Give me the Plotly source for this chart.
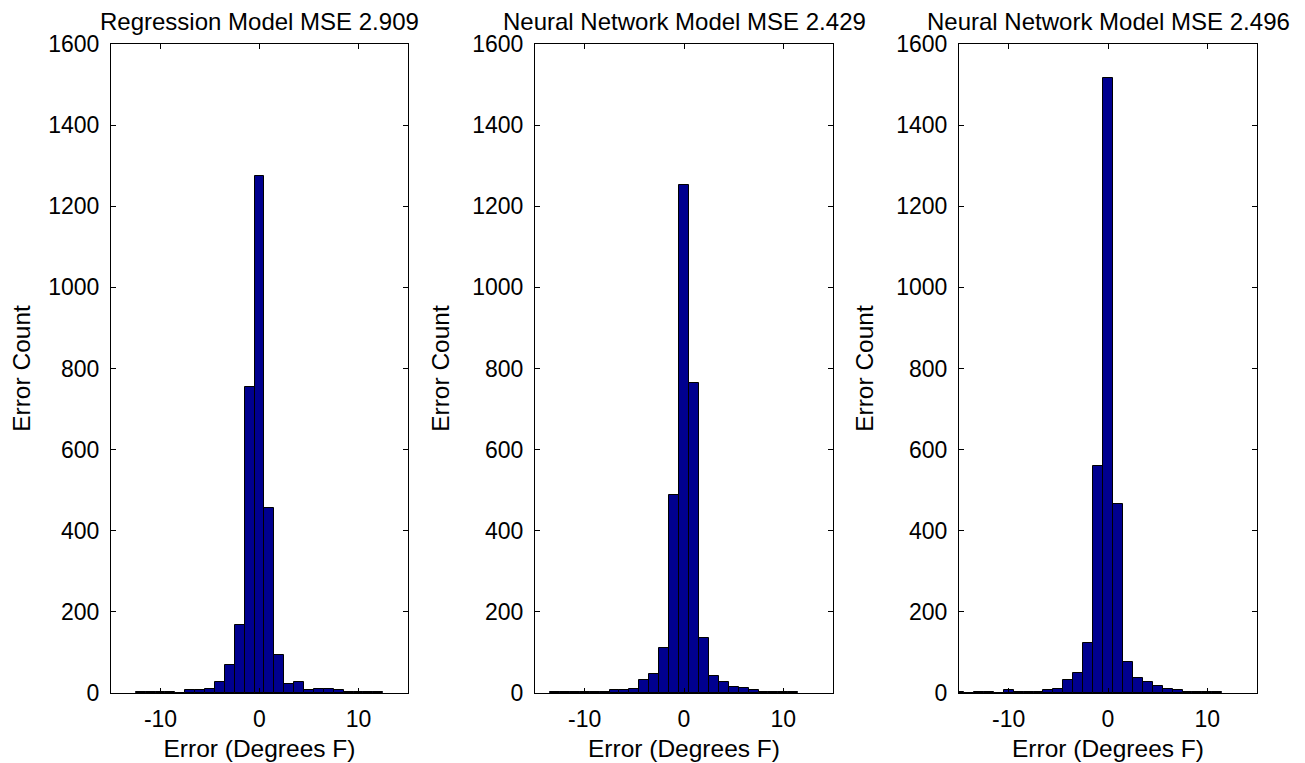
import plotly.graph_objects as go

# ---- data (bin centers in degrees F, counts) ----
reg_centers = list(range(-12, 13))
reg_counts = [3, 3, 3, 3, 0, 7, 7, 11, 27, 69, 167, 754, 1275, 455, 93,
              21, 27, 7, 11, 11, 7, 3, 3, 3, 3]

nn1_centers = list(range(-13, 12))
nn1_counts = [3, 3, 3, 3, 3, 3, 7, 7, 11, 31, 46, 112, 487, 1252, 765,
              135, 42, 26, 16, 12, 7, 3, 3, 3, 3]

nn2_centers = list(range(-15, 12))
nn2_counts = [3, 0, 3, 3, 0, 7, 3, 3, 3, 7, 11, 31, 50, 123, 560, 1515,
              465, 77, 38, 26, 18, 11, 7, 3, 3, 3, 3]

titles = ["Regression Model MSE 2.909",
          "Neural Network Model MSE 2.429",
          "Neural Network Model MSE 2.496"]
x_ticks = [-10, 0, 10]
x_tick_text = ["-10", "0", "10"]
y_ticks = [0, 200, 400, 600, 800, 1000, 1200, 1400, 1600]
x_label = "Error (Degrees F)"
y_label = "Error Count"

FONT = "Liberation Sans, Arial, Helvetica, sans-serif"
BAR_COLOR = "#00008F"

# page body has an 8px margin, so the figure is drawn 8px in from the corner
W, H = 1297, 755
ML, MR, MT, MB = 103, 48, 36, 70
plot_w = W - ML - MR
px = [(103, 400), (527, 825), (951, 1249)]
domains = [[(a - ML) / plot_w, (b - ML) / plot_w] for a, b in px]

fig = go.Figure()
series = [(reg_centers, reg_counts), (nn1_centers, nn1_counts), (nn2_centers, nn2_counts)]
for i, (cx, cy) in enumerate(series):
    sfx = "" if i == 0 else str(i + 1)
    fig.add_trace(go.Bar(
        x=cx, y=cy, width=1.0,
        marker=dict(color=BAR_COLOR, line=dict(color="black", width=1)),
        xaxis="x" + sfx, yaxis="y" + sfx, showlegend=False,
    ))

layout = dict(
    width=W, height=H,
    margin=dict(l=ML, r=MR, t=MT, b=MB, autoexpand=False),
    paper_bgcolor="white", plot_bgcolor="white",
    font=dict(family=FONT, size=23, color="black"),
    bargap=0,
    annotations=[],
)
for i in range(3):
    sfx = "" if i == 0 else str(i + 1)
    layout["xaxis" + sfx] = dict(
        domain=domains[i], range=[-15, 15], anchor="y" + sfx,
        tickmode="array", tickvals=x_ticks, ticktext=x_tick_text,
        ticks="inside", ticklen=5, tickcolor="black",
        showline=True, linecolor="black", linewidth=1, mirror="ticks",
        showgrid=False, zeroline=False, automargin=False,
        tickfont=dict(size=23), ticklabelstandoff=5,
        title=dict(text=x_label, font=dict(size=24.5), standoff=9),
    )
    layout["yaxis" + sfx] = dict(
        domain=[0, 1], range=[0, 1600], anchor="x" + sfx,
        tickmode="array", tickvals=y_ticks,
        ticks="inside", ticklen=5, tickcolor="black",
        showline=True, linecolor="black", linewidth=1, mirror="ticks",
        showgrid=False, zeroline=False, automargin=False,
        tickfont=dict(size=23), ticklabelstandoff=6,
        title=dict(text=y_label, font=dict(size=24.5), standoff=15),
    )
    layout["annotations"].append(dict(
        text=titles[i], xref="x" + sfx + " domain", yref="paper",
        x=0.5, y=1.0, yshift=7, xanchor="center", yanchor="bottom",
        showarrow=False, font=dict(size=24),
    ))

fig.update_layout(**layout)
fig.write_html("out.html")
